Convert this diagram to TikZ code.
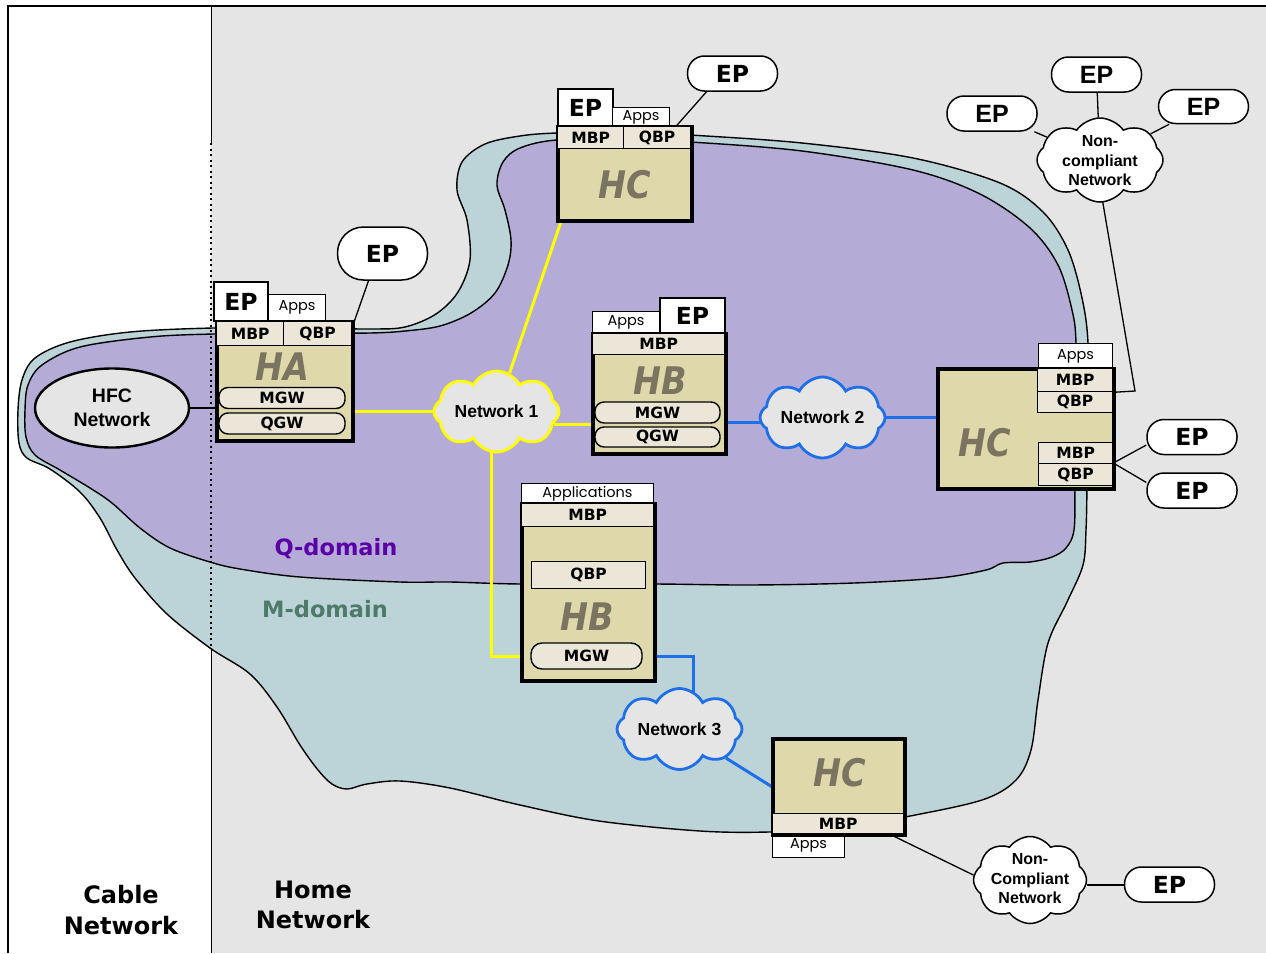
\documentclass[tikz,border=0pt]{standalone}
\usepackage{fontspec}
\usepackage{graphicx}
\usetikzlibrary{shapes.symbols,shapes.geometric}
\newfontfamily\verd{DejaVu Sans}
\newfontfamily\arl{Liberation Sans}
\newfontfamily\appf{Poppins}
\definecolor{bggray}{HTML}{E5E5E5}
\definecolor{mblue}{HTML}{BCD4D8}
\definecolor{qpurple}{HTML}{B4ACD6}
\definecolor{khaki}{HTML}{DFD8AA}
\definecolor{rowcol}{HTML}{EBE6D7}
\definecolor{hgray}{HTML}{7A7461}
\definecolor{qtext}{HTML}{5B00A6}
\definecolor{mtext}{HTML}{4E7A6A}
\definecolor{yel}{HTML}{FFFF00}
\definecolor{blu}{HTML}{1F6FE8}
\newcommand\myrow{\verd\bfseries\fontsize{15.5}{17}\selectfont}
\newcommand\myep{\verd\bfseries\fontsize{23.5}{26}\selectfont}
\newcommand\myepA{\arl\bfseries\fontsize{25}{27}\selectfont}
\newcommand\myapps{\appf\fontsize{14.5}{16}\selectfont}
\newcommand\mybig{\verd\bfseries\itshape\fontsize{38}{40}\selectfont}
\newcommand\mynet{\arl\bfseries\fontsize{17.5}{20}\selectfont}
\newcommand\mync{\arl\bfseries\fontsize{16}{19.5}\selectfont}
\newcommand\myhfc{\arl\bfseries\fontsize{19.5}{24}\selectfont}
\newcommand\mylab{\verd\bfseries\fontsize{24}{30.5}\selectfont}
\newcommand\mydom{\verd\bfseries\fontsize{22.5}{24}\selectfont}
\pgfdeclarelayer{back}
\pgfdeclarelayer{mid}
\pgfsetlayers{back,mid,main}
\begin{document}
\begin{tikzpicture}[x=1pt,y=-1pt,
  mainbox/.style={draw, line width=2.6pt, fill=khaki, inner sep=0pt, anchor=north west},
  rowbox/.style={draw, line width=1.3pt, fill=rowcol, inner sep=0pt, anchor=north west, font=\myrow},
  gwbox/.style={draw, line width=1.4pt, fill=rowcol, rounded corners=9pt, inner sep=0pt, font=\myrow, minimum height=21pt},
  epbox/.style={draw, line width=2pt, fill=white, inner sep=0pt, anchor=north west, font=\myep},
  appsbox/.style={draw, line width=1pt, fill=white, inner sep=0pt, anchor=north west, font=\myapps},
  epoval/.style={draw, line width=1.5pt, fill=white, rounded corners=17pt, minimum width=90pt, minimum height=35pt, inner sep=0pt, font=\myep},
  bigtext/.style={font=\mybig, text=hgray, inner sep=0pt},
  netcloud/.style={cloud, cloud puffs=8, cloud puff arc=125, cloud ignores aspect, fill=bggray, line width=2.8pt, inner sep=0pt, minimum width=125pt, minimum height=81pt},
  nccloud/.style={cloud, cloud puffs=8, cloud puff arc=110, cloud ignores aspect, fill=white, draw=black, line width=1.5pt, inner sep=0pt},
  cloudtext/.style={font=\mynet, inner sep=0pt, align=center},
  nctext/.style={font=\mync, inner sep=0pt, align=center},
  boxline/.style={line width=2.6pt},
  yline/.style={draw=yel, line width=3pt},
  bline/.style={draw=blu, line width=3pt},
  kline/.style={draw=black, line width=1.3pt},
  blobline/.style={draw=black, line width=1.4pt}
]
\useasboundingbox (0,0) rectangle (1266,953);
\begin{pgfonlayer}{back}
\fill[white] (0,0) rectangle (1266,953);
\fill[bggray] (211,6) rectangle (1266,953);
\draw[blobline, fill=mblue] plot[smooth cycle, tension=0.55] coordinates {
 (213,328) (300,328) (370,329) (405,327) (436,314) (458,292) (470,260) (467,220) (457,190) (462,162) (485,144) (520,136) (557,133) (630,132) (690,135) (802,143) (913,158) (1000,183) (1043,212) (1068,250) (1082,298) (1088,343) (1088,420) (1087,487) (1086,530) (1083,565) (1067,602) (1048,643) (1038,700) (1031,750) (1016,780) (982,800) (905,817) (840,828) (769,832) (700,831) (599,821) (520,805) (450,788) (400,781) (367,784) (347,789) (332,784) (318,770) (300,745) (277,707) (250,674) (210,648) (167,614) (135,578) (117,550) (100,518) (80,492) (50,469) (27,458) (19,443) (18,410) (22,380) (35,358) (70,342) (130,332)};
\draw[blobline, fill=qpurple] plot[smooth cycle, tension=0.55] coordinates {
 (213,334) (300,333) (370,333) (405,331) (440,326) (471,313) (495,293) (508,265) (511,240) (505,210) (497,185) (503,162) (520,148) (557,140) (630,140) (690,142) (802,151) (913,170) (980,194) (1030,228) (1058,265) (1072,310) (1076,343) (1076,420) (1075,487) (1074,530) (1066,548) (1052,557) (1030,562) (1003,563) (986,570) (939,578) (854,583) (750,585) (654,584) (521,584) (450,582) (400,582) (300,577) (240,569) (210,562) (170,548) (140,528) (112,503) (90,488) (60,470) (35,455) (26,437) (25,410) (28,385) (42,365) (80,347) (150,337)};
\draw[line width=1pt] (211,6) -- (211,143);
\draw[line width=2pt, dash pattern=on 2pt off 3.5pt] (211,143) -- (211,648);
\draw[line width=1pt] (211,648) -- (211,953);
\draw[line width=1.2pt] (8,953) -- (8,6) -- (1266,6);
\end{pgfonlayer}

% labels
\node[font=\mylab, align=center, inner sep=0pt] (cablelbl) at (121,910) {Cable\\Network};
\node[font=\mylab, align=center, inner sep=0pt] (homelbl) at (313,905) {Home\\Network};
\node[font=\mydom, text=qtext, inner sep=0pt] (qlbl) at (336,549) {Q-domain};
\node[font=\mydom, text=mtext, inner sep=0pt] (mlbl) at (325,609) {M-domain};

% HFC
\node[ellipse, draw, line width=2.4pt, fill=bggray, minimum width=154pt, minimum height=79pt, inner sep=0pt, font=\myhfc, align=center] (hfc) at (112,408) {HFC\\Network};

% HA
\node[epbox, minimum width=54pt, minimum height=39pt] (haep) at (213,281) {EP};
\node[appsbox, minimum width=57pt, minimum height=26pt] (haapps) at (268,294) {Apps};
\node[mainbox, minimum width=135pt, minimum height=118pt] (ha) at (216,321) {};
\node[rowbox, minimum width=67pt, minimum height=24pt] (ham) at (216,321) {MBP};
\node[rowbox, minimum width=68pt, minimum height=24pt] (haq) at (283,321) {QBP};
\node[bigtext] (hat) at (282,367) {\scalebox{0.88}[1]{HA}};
\node[gwbox, minimum width=126pt] (hag1) at (282,398) {MGW};
\node[gwbox, minimum width=126pt] (hag2) at (282,423.5) {QGW};
\draw[boxline] (ha.north west) rectangle (ha.south east);
\node[epoval, minimum height=53pt, rounded corners=26pt] (epA) at (382.5,253.5) {EP};

% top HC
\node[epbox, minimum width=55pt, minimum height=38pt] (hctep) at (557,88) {EP};
\node[appsbox, minimum width=57pt, minimum height=19pt] (hcta) at (612,107) {Apps};
\node[mainbox, minimum width=133pt, minimum height=93pt] (hcT) at (557,126) {};
\node[rowbox, minimum width=66pt, minimum height=22pt] (hctm) at (557,126) {MBP};
\node[rowbox, minimum width=67pt, minimum height=22pt] (hctq) at (623,126) {QBP};
\node[bigtext] (hctt) at (625,185) {\scalebox{0.88}[1]{HC}};
\draw[boxline] (hcT.north west) rectangle (hcT.south east);
\node[epoval] (epTop) at (732.5,73.5) {EP};

% HB middle
\node[appsbox, minimum width=67pt, minimum height=22pt] (hbma) at (592,311) {Apps};
\node[epbox, minimum width=65pt, minimum height=36pt] (hbmep) at (659,297) {EP};
\node[mainbox, minimum width=132pt, minimum height=119pt] (hbM) at (592,333) {};
\node[rowbox, minimum width=132pt, minimum height=21pt] (hbmm) at (592,333) {MBP};
\node[bigtext] (hbmt) at (660,381) {\scalebox{0.88}[1]{HB}};
\node[gwbox, minimum width=125pt] (hbmg1) at (657.5,412.5) {MGW};
\node[gwbox, minimum width=125pt, minimum height=20pt] (hbmg2) at (657.5,437) {QGW};
\draw[boxline] (hbM.north west) rectangle (hbM.south east);

% HC right
\node[appsbox, minimum width=74pt, minimum height=25pt] (hcra) at (1038,343) {Apps};
\node[mainbox, minimum width=175pt, minimum height=119pt] (hcR) at (937,368) {};
\node[rowbox, minimum width=75pt, minimum height=23pt] (hcrm1) at (1037,368) {MBP};
\node[rowbox, minimum width=75pt, minimum height=21pt] (hcrq1) at (1037,391) {QBP};
\node[rowbox, minimum width=74pt, minimum height=21pt] (hcrm2) at (1038,442) {MBP};
\node[rowbox, minimum width=74pt, minimum height=22pt] (hcrq2) at (1038,463) {QBP};
\node[bigtext] (hcrt) at (985,443) {\scalebox{0.88}[1]{HC}};
\draw[boxline] (hcR.north west) rectangle (hcR.south east);
\node[epoval] (epR1) at (1192,437) {EP};
\node[epoval] (epR2) at (1192,490.5) {EP};

% HB lower
\node[appsbox, minimum width=132pt, minimum height=20pt] (hb2a) at (521,483) {Applications};
\node[mainbox, minimum width=132pt, minimum height=176pt] (hb2) at (521,503) {};
\node[rowbox, minimum width=132pt, minimum height=23pt] (hb2m) at (521,503) {MBP};
\node[rowbox, minimum width=114pt, minimum height=27pt] (hb2q) at (531,561) {QBP};
\node[bigtext] (hb2t) at (587,617) {\scalebox{0.88}[1]{HB}};
\node[gwbox, minimum width=111pt, minimum height=26pt, rounded corners=11pt] (hb2g) at (586.5,656) {MGW};
\draw[boxline] (hb2.north west) rectangle (hb2.south east);

% HC bottom
\node[appsbox, minimum width=72pt, minimum height=24pt] (hcba) at (772,833) {Apps};
\node[mainbox, minimum width=131pt, minimum height=95pt] (hcB) at (772,738) {};
\node[rowbox, minimum width=131pt, minimum height=20pt] (hcbm) at (772,813) {MBP};
\node[bigtext] (hcbt) at (840,773) {\scalebox{0.88}[1]{HC}};
\draw[boxline] (hcB.north west) rectangle (hcB.south east);

% clouds
\node[netcloud, draw=yel] (net1) at (496.5,411.5) {};
\node[cloudtext] (net1t) at (496.5,411.5) {Network 1};
\node[netcloud, draw=blu] (net2) at (822.5,417.5) {};
\node[cloudtext] (net2t) at (822.5,417.5) {Network 2};
\node[netcloud, draw=blu] (net3) at (679.5,729) {};
\node[cloudtext] (net3t) at (679.5,729) {Network 3};
\node[nccloud, minimum width=126pt, minimum height=84pt] (ncT) at (1100,160) {};
\node[nctext] (ncTt) at (1100,161) {Non-\\compliant\\Network};
\node[nccloud, minimum width=113pt, minimum height=87pt] (ncB) at (1030,880) {};
\node[nctext] (ncBt) at (1030,879) {Non-\\Compliant\\Network};

% EPs right
\node[epoval, font=\myepA] (epTL) at (992,113.5) {EP};
\node[epoval, font=\myepA] (epTM) at (1096.5,74.5) {EP};
\node[epoval, font=\myepA, minimum height=34pt] (epTR) at (1203.5,106.5) {EP};
\node[epoval] (epBR) at (1169.5,884.5) {EP};

\coordinate (bendR) at (1135,391);

\begin{pgfonlayer}{mid}
\draw[kline] (hfc.east) -- (hfc.east -| ha.west);
\draw[kline] ([xshift=-14pt]epA.south) -- ([yshift=-6pt]haq.north east);
\draw[kline] ([xshift=-26pt]epTop.south) -- ([xshift=-15pt]hctq.north east);
\draw[yline] (ha.east |- net1.west) -- ([xshift=6pt]net1.west);
\draw[yline] (net1) -- ([xshift=4pt]hcT.south west);
\draw[yline] (net1.-13) -- (net1.-13 -| hbM.west);
\draw[yline] ([xshift=-5pt,yshift=6pt]net1.south) |- (hb2g.west -| hb2.west);
\draw[bline] ([xshift=6pt]net2.185) -- (net2.185 -| hbM.east);
\draw[bline] ([xshift=-6pt]net2.east) -- (net2.east -| hcR.west);
\draw[bline] (hb2g.east -| hb2.east) -| ([xshift=13.5pt,yshift=-8pt]net3.north);
\draw[bline] (net3) -- (hcB.west);
\draw[kline] ([xshift=-13pt]hcB.south east) -- (ncB.175);
\draw[kline] (ncB.-5) -- (ncB.-5 -| epBR.west);
\draw[kline] (hcrm1.south east) -- (bendR) -- ([xshift=2pt,yshift=5pt]ncT.south);
\draw[kline] (hcrq2.north east) -- (epR1.190);
\draw[kline] (hcrq2.north east) -- (epR2.170);
\draw[kline] (epTL) -- (ncT);
\draw[kline] (epTM) -- (ncT);
\draw[kline] (epTR) -- (ncT);
\end{pgfonlayer}
\end{tikzpicture}
\end{document}
